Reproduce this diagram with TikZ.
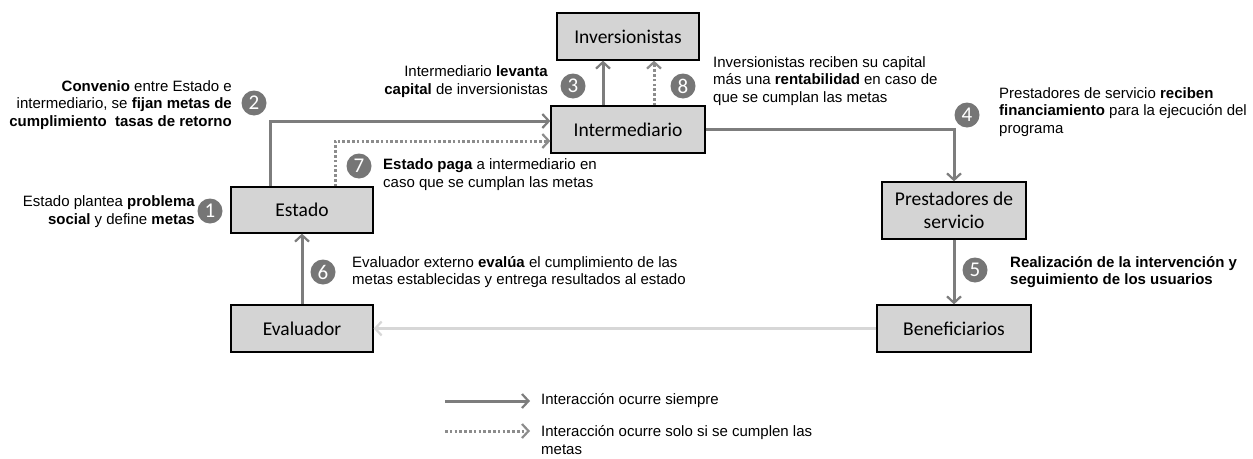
\documentclass[tikz,border=0pt]{standalone}
\usepackage{fontspec}
\setmainfont{Liberation Sans}
\newfontfamily\boxfont{Carlito}
\usetikzlibrary{arrows.meta}
\definecolor{boxgray}{RGB}{212,212,212}
\definecolor{arrgray}{RGB}{125,125,125}
\definecolor{dotgray}{RGB}{140,140,140}
\definecolor{lightarr}{RGB}{215,215,215}
\definecolor{circgray}{RGB}{118,118,118}
\tikzset{
  box/.style={draw=black, line width=1.3pt, fill=boxgray, inner sep=0pt,
    font=\boxfont\fontsize{19.5}{23}\selectfont, align=center},
  num/.style={circle, fill=circgray, minimum size=25pt, inner sep=0pt,
    text=white, font=\boxfont\fontsize{21}{21}\selectfont},
  note/.style={inner sep=0pt, font=\fontsize{15}{17.8}\selectfont},
  arr/.style={draw=arrgray, line width=3pt, -{Straight Barb[length=6.5pt,width=14pt,line width=2.2pt]}},
  arrd/.style={draw=dotgray, line width=3pt, dash pattern=on 2.6pt off 2.2pt, -{Straight Barb[length=6.5pt,width=14pt,line width=2.2pt]}},
  arrl/.style={draw=lightarr, line width=3pt, -{Straight Barb[length=6.5pt,width=14pt,line width=2.2pt]}}
}
\begin{document}
\begin{tikzpicture}[x=1pt,y=-1pt]
\useasboundingbox (0,0) rectangle (1253,458);
% boxes
\node[box, minimum width=142pt, minimum height=47pt] (inv) at (628,36.5) {Inversionistas};
\node[box, minimum width=154pt, minimum height=47pt] (inter) at (628,129.5) {Intermediario};
\node[box, minimum width=142pt, minimum height=46pt] (estado) at (302,210) {Estado};
\node[box, minimum width=142pt, minimum height=47pt] (eval) at (302,328.5) {Evaluador};
\node[box, minimum width=144pt, minimum height=57pt] (prest) at (954,210.5) {Prestadores de\\servicio};
\node[box, minimum width=154pt, minimum height=47pt] (benef) at (954,328.5) {Beneficiarios};
% connectors
\coordinate (c2) at (270,121);
\draw[arr] (estado.north -| c2) |- (inter.west |- c2);
\coordinate (c7) at (335,141);
\draw[arrd] (estado.north -| c7) |- (inter.west |- c7);
\coordinate (c3) at (603,0);
\draw[arr] (inter.north -| c3) -- (inv.south -| c3);
\coordinate (c8) at (654,0);
\draw[arrd] (inter.north -| c8) -- (inv.south -| c8);
\draw[arr] (inter.east) -| (prest.north);
\draw[arr] (prest.south) -- (benef.north);
\draw[arrl] (benef.west) -- (eval.east);
\draw[arr] (eval.north) -- (estado.south);
% numbers
\node[num] (n1) at (210,211) {1};
\node[num] (n2) at (254,103) {2};
\node[num] (n3) at (573,86) {3};
\node[num] (n8) at (683,86) {8};
\node[num] (n4) at (967,115) {4};
\node[num] (n5) at (975,270) {5};
\node[num] (n6) at (323,272) {6};
\node[num] (n7) at (359,166) {7};
% notes
\node[note, anchor=east, align=right] (t1) at (195,212) {Estado plantea \textbf{problema}\\\textbf{social} y define \textbf{metas}};
\node[note, anchor=east, align=right] (t2) at (232,105) {\textbf{Convenio} entre Estado e\\intermediario, se \textbf{fijan metas de}\\\textbf{cumplimiento\ \ tasas de retorno}};
\node[note, anchor=east, align=right] (t3) at (548,82) {Intermediario \textbf{levanta}\\\textbf{capital} de inversionistas};
\node[note, anchor=west, align=left] (t8) at (713,81) {Inversionistas reciben su capital\\más una \textbf{rentabilidad} en caso de\\que se cumplan las metas};
\node[note, anchor=west, align=left] (t4) at (999,112) {Prestadores de servicio \textbf{reciben}\\\textbf{financiamiento} para la ejecución del\\programa};
\node[note, anchor=west, align=left] (t7) at (383,175) {\textbf{Estado paga} a intermediario en\\caso que se cumplan las metas};
\node[note, anchor=west, align=left] (t6) at (352,272) {Evaluador externo \textbf{evalúa} el cumplimiento de las\\metas establecidas y entrega resultados al estado};
\node[note, anchor=west, align=left] (t5) at (1010,272) {\textbf{Realización de la intervención y}\\\textbf{seguimiento de los usuarios}};
% legend
\coordinate (l1a) at (445,401);
\coordinate (l1b) at (530,401);
\draw[arr] (l1a) -- (l1b);
\node[note, anchor=west] (lt1) at (541,401) {Interacción ocurre siempre};
\coordinate (l2a) at (445,431);
\coordinate (l2b) at (530,431);
\draw[arrd] (l2a) -- (l2b);
\node[note, anchor=west, align=left] (lt2) at (541,440) {Interacción ocurre solo si se cumplen las\\metas};
\end{tikzpicture}
\end{document}
